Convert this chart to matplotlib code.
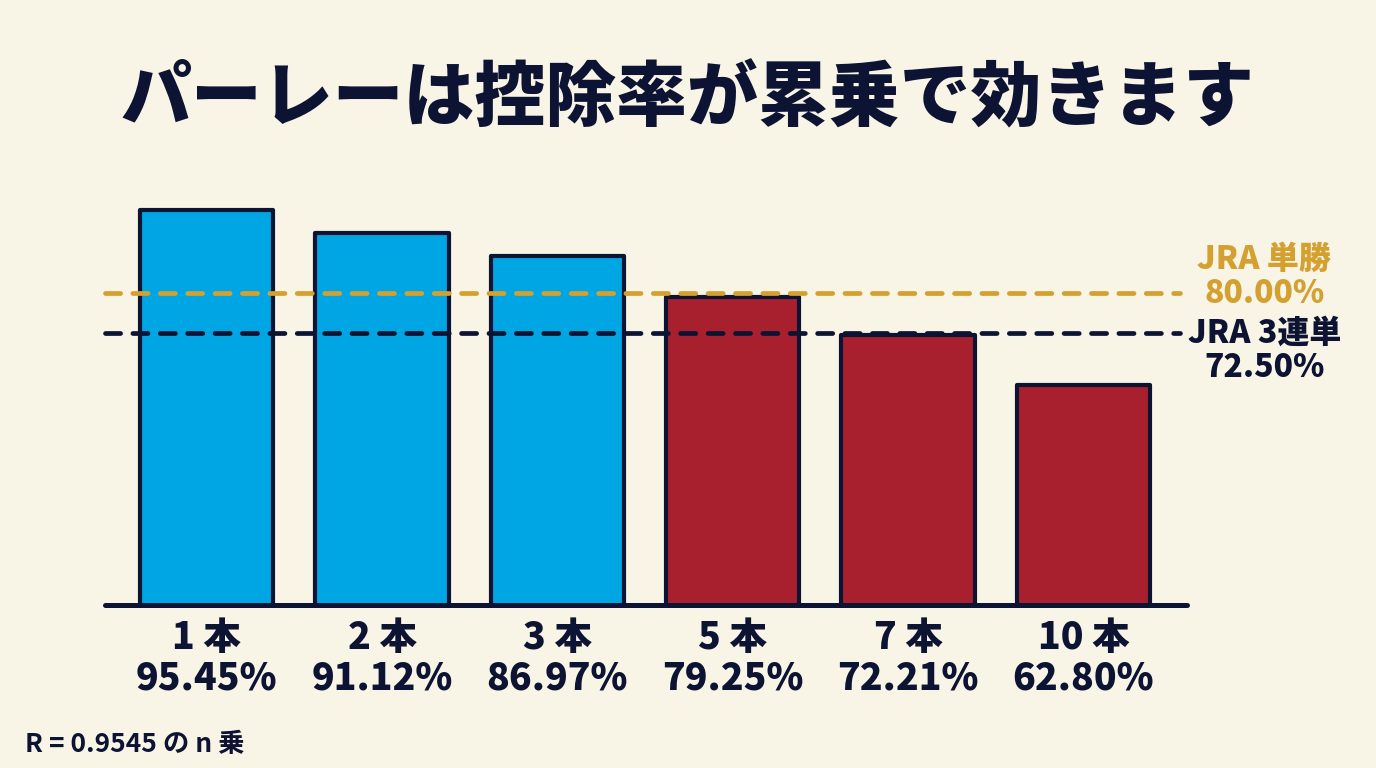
import matplotlib
matplotlib.use("Agg")
from matplotlib import pyplot as plt
import matplotlib.transforms as mtransforms

plt.rcParams['font.family'] = ['Noto Sans CJK JP', 'DejaVu Sans']

# data
legs = ["1 本", "2 本", "3 本", "5 本", "7 本", "10 本"]
payout = [95.45, 91.12, 86.97, 79.25, 72.21, 62.80]
ref_names = ["JRA 単勝", "JRA 3連単"]
ref_values = [80.00, 72.50]

title = "パーレーは控除率が累乗で効きます"
footer = "R = 0.9545 の n 乗"

# colours
bg = "#f8f4e6"
navy = "#0d1433"
blue = "#00a6e3"
red = "#a8202d"
gold = "#d4a030"

fig = plt.figure(figsize=(13.76, 7.68), dpi=100, facecolor=bg)
ax = fig.add_axes([0.0763, 0.2122, 0.7863, 0.5404])
ax.set_facecolor(bg)

colors = [blue if v > ref_values[0] else red for v in payout]
x = list(range(len(legs)))
ax.bar(x, payout, width=0.76, color=colors, edgecolor=navy, linewidth=3.0,
       joinstyle='round', zorder=2)

ax.set_xlim(-0.58, 5.59)
ax.set_ylim(21.75, 99.2)

# baseline
ax.axhline(21.75, color=navy, lw=3.6, solid_capstyle='round', clip_on=False, zorder=3)

# reference lines
ref_colors = [gold, navy]
for val, c in zip(ref_values, ref_colors):
    line, = ax.plot([-0.58, 5.55], [val, val], color=c, lw=3.4, zorder=4, clip_on=False)
    line.set_dashes((3.2, 2.6))
    line.set_dash_capstyle('round')

trans = mtransforms.blended_transform_factory(ax.transAxes, ax.transData)
lx = 1.0715
# gold label: value line sits on the dashed line
ax.annotate(ref_names[0], (lx, ref_values[0]), xycoords=trans, xytext=(0, 34),
            textcoords='offset pixels', ha='center', va='center', fontsize=23,
            fontweight='heavy', color=gold, annotation_clip=False)
ax.annotate(f"{ref_values[0]:.2f}%", (lx, ref_values[0]), xycoords=trans,
            ha='center', va='center', fontsize=23, fontweight='heavy', color=gold,
            annotation_clip=False)
# navy label: name sits on the dashed line
ax.annotate(ref_names[1], (lx, ref_values[1]), xycoords=trans,
            ha='center', va='center', fontsize=23, fontweight='heavy', color=navy,
            annotation_clip=False)
ax.annotate(f"{ref_values[1]:.2f}%", (lx, ref_values[1]), xycoords=trans, xytext=(0, -34),
            textcoords='offset pixels', ha='center', va='center', fontsize=23,
            fontweight='heavy', color=navy, annotation_clip=False)

# tick labels
ax.set_xticks(x)
ax.set_xticklabels([f"{n}\n{v:.2f}%" for n, v in zip(legs, payout)],
                   fontsize=27, fontweight='heavy', color=navy, linespacing=1.08)
ax.tick_params(axis='x', length=0, pad=10)
ax.set_yticks([])
for s in ax.spines.values():
    s.set_visible(False)

fig.text(0.5, 0.87, title, ha='center', va='center', fontsize=51,
         fontweight='black', color=navy)
fig.text(0.018, 0.03, footer, ha='left', va='center', fontsize=19,
         fontweight='bold', color=navy)

fig.savefig("out.png", dpi=100, facecolor=bg)
